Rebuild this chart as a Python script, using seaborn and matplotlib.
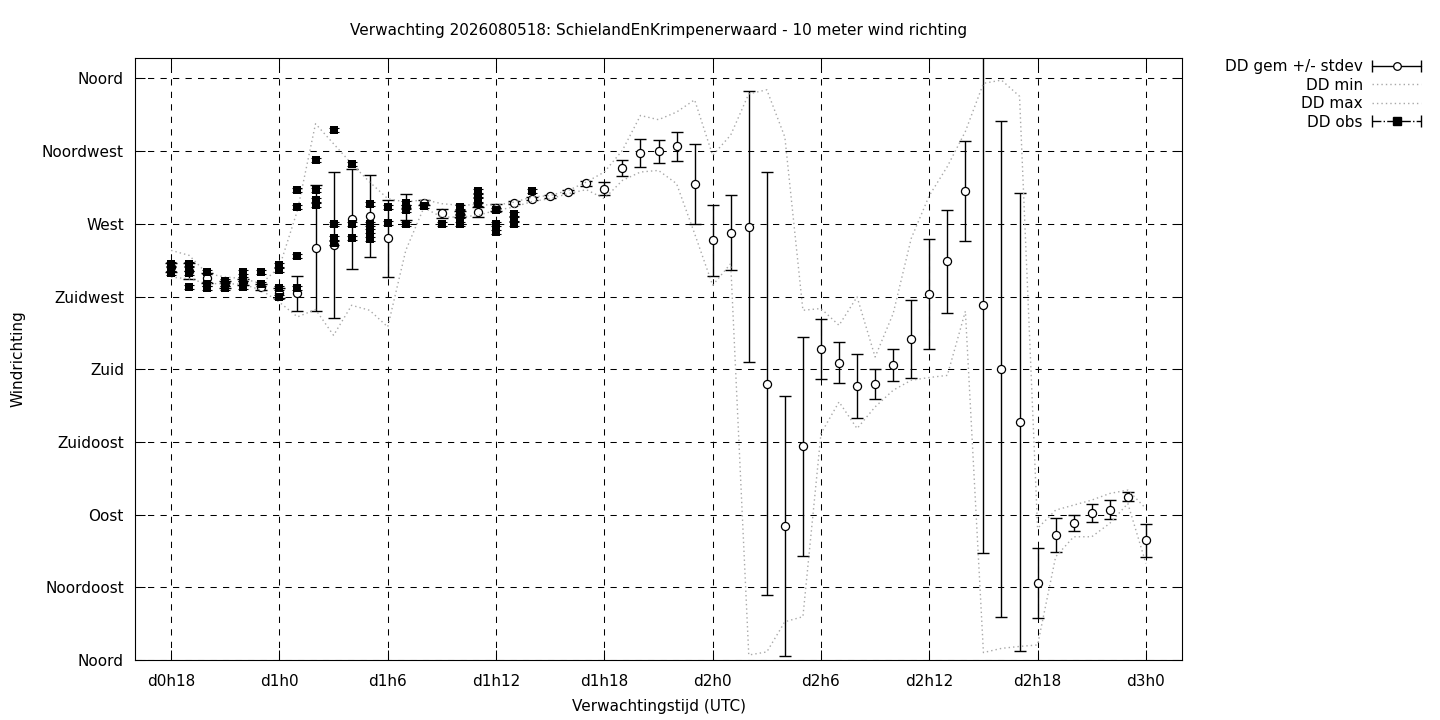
import numpy as np
import pandas as pd
import matplotlib
matplotlib.use("Agg")
import matplotlib.pyplot as plt
import seaborn as sns
from matplotlib.lines import Line2D
from matplotlib.legend_handler import HandlerLine2D

# ---------------- data ----------------
hours = [18, 19, 20, 21, 22, 23, 24, 25, 26, 27, 28, 29, 30, 31, 32, 33, 34, 35,
         36, 37, 38, 39, 40, 41, 42, 43, 44, 45, 46, 47, 48, 49, 50, 51, 52, 53,
         54, 55, 56, 57, 58, 59, 60, 61, 62, 63, 64, 65, 66, 67, 68, 69, 70, 71, 72]

dd_mean = [243, 241, 236.7, 232.5, 234, 231, 227.2, 227, 255, 257, 273, 275, 261,
           280.5, 283, 276.5, 276, 277.4, 280, 283, 285.6, 287, 290, 295, 291.8,
           304.8, 314, 314.9, 318, 294.5, 259.8, 264.6, 268.3, 171, 83, 132.2,
           192.6, 184, 169.6, 170.8, 182.7, 198.7, 226.7, 246.8, 290.6, 219.8,
           180.2, 147.3, 47.6, 77.3, 84.8, 91, 93, 101, 74]

dd_std = [3, 5, 3, 2, 2, 2, 3, 11, 39, 45, 31, 25.5, 24, 8.2, 1.5, 3, 2, 3, 2, 1,
          1, 1, 1, 1.5, 4, 5, 8.7, 7, 9, 24.7, 22, 23, 84, 131, 80.6, 68, 18.7,
          12.7, 20, 9.5, 9.8, 24, 34, 32, 31, 153.7, 153.5, 142, 21.5, 10.5, 4.8,
          5.5, 6, 2.7, 10]

dd_min = [237, 236, 233, 233, 232.6, 229, 221.5, 212.4, 217, 201, 219.6, 216.5,
          206.2, 253.6, 280, 274.2, 274.2, 275.3, 278.4, 280.4, 283.9, 285.6,
          288.7, 291.2, 285.6, 296.9, 302.1, 303.1, 294.9, 264, 232, 245.4, 3.1,
          5, 23.7, 26.8, 140.2, 159.8, 143.3, 156.7, 167, 173.2, 174.9, 176.2,
          215.9, 4.6, 7.2, 8.4, 9.3, 63.9, 76.3, 76.3, 84.6, 96.9, 59.8]

dd_max = [253.6, 250.5, 239.2, 237.1, 236.1, 233, 243.3, 278.4, 332, 319.6, 307.2,
          295.9, 285.6, 283.5, 285, 282.5, 281.5, 282, 281.5, 283.5, 286.6, 287.6,
          290.7, 295.9, 302.1, 315.5, 337.1, 334.5, 339.2, 346.8, 312.4, 325,
          350.5, 353, 323.7, 216.5, 217.6, 207.2, 224.8, 187.6, 214.5, 261, 287.5,
          305.5, 327.2, 357, 359, 349, 81.5, 92.8, 95.9, 99, 103.1, 105.2, 93.8]

obs_hours = [18, 18, 18,
             19, 19, 19, 19,
             20, 20, 20,
             21, 21, 21,
             22, 22, 22, 22,
             23, 23,
             24, 24, 24, 24,
             25, 25, 25, 25,
             26, 26, 26, 26,
             27, 27, 27, 27,
             28, 28, 28,
             29, 29, 29, 29,
             30, 30,
             31, 31, 31, 31,
             32,
             33,
             34, 34, 34, 34,
             35, 35, 35, 35,
             36, 36, 36,
             37, 37, 37,
             38]
obs_dd = [245.0, 242.3, 239.8,
          245.0, 242.3, 239.8, 230.7,
          240.2, 233.0, 230.5,
          234.7, 232.6, 230.3,
          240.2, 236.1, 233.4, 230.9,
          240.2, 233.0,
          244.3, 241.7, 230.3, 224.8,
          291.2, 280.4, 250.3, 230.5,
          309.7, 290.7, 284.6, 281.5,
          328.3, 270.1, 261.2, 258.1,
          307.2, 270.1, 261.2,
          282.5, 270.1, 265.4, 260.4,
          280.5, 270.8,
          282.9, 280.5, 278.4, 270.1,
          281.1,
          270.1,
          280.3, 277.4, 274.6, 270.1,
          290.5, 287.6, 284.6, 282.0,
          278.4, 270.1, 265.2,
          276.3, 273.0, 270.1,
          290.4]

x_ticks = [18, 24, 30, 36, 42, 48, 54, 60, 66, 72]
x_ticklabels = ["d0h18", "d1h0", "d1h6", "d1h12", "d1h18", "d2h0", "d2h6",
                "d2h12", "d2h18", "d3h0"]
y_ticks = [0, 45, 90, 135, 180, 225, 270, 315, 360]
y_ticklabels = ["Noord", "Noordoost", "Oost", "Zuidoost", "Zuid", "Zuidwest",
                "West", "Noordwest", "Noord"]

title = "Verwachting 2026080518: SchielandEnKrimpenerwaard - 10 meter wind richting"
labels = ["DD gem +/- stdev", "DD min", "DD max", "DD obs"]

# ---------------- style ----------------
sns.set_style("ticks")
plt.rcParams["font.family"] = ["DejaVu Sans"]
plt.rcParams["axes.edgecolor"] = "black"
plt.rcParams["text.color"] = "black"
plt.rcParams["axes.labelcolor"] = "black"
plt.rcParams["xtick.color"] = "black"
plt.rcParams["ytick.color"] = "black"

W, H = 1440, 720
fig = plt.figure(figsize=(W / 100, H / 100), dpi=100)
ax_left, ax_right, ax_top, ax_bottom = 135, 1182, 57.5, 660
ax = fig.add_axes([ax_left / W, 1 - ax_bottom / H,
                   (ax_right - ax_left) / W, (ax_bottom - ax_top) / H])

fc = pd.DataFrame({"uur": hours, "gem": dd_mean, "std": dd_std,
                   "min": dd_min, "max": dd_max})
ob = pd.DataFrame({"uur": obs_hours, "dd": obs_dd})

grey = "#a8a8a8"
dotted = (0, (1, 2.2))

# forecast mean +/- stdev
ax.errorbar(fc["uur"], fc["gem"], yerr=fc["std"], fmt="none", ecolor="black",
            elinewidth=1.0, capsize=4.3, capthick=1.0, zorder=3)
sns.scatterplot(data=fc, x="uur", y="gem", marker="o", s=34, color="white",
                edgecolor="black", linewidth=0.9, ax=ax, zorder=4, legend=False)

# min / max
sns.lineplot(data=fc, x="uur", y="min", color=grey, linestyle=dotted, lw=1.0,
             estimator=None, ax=ax, zorder=5, legend=False)
sns.lineplot(data=fc, x="uur", y="max", color=grey, linestyle=dotted, lw=1.0,
             estimator=None, ax=ax, zorder=5, legend=False)

# observations
ax.errorbar(ob["uur"], ob["dd"], yerr=1.2, fmt="none", ecolor="black",
            elinewidth=0.8, capsize=3.6, capthick=0.8, zorder=6)
sns.scatterplot(data=ob, x="uur", y="dd", marker="s", s=36, color="black",
                edgecolor="black", linewidth=0, ax=ax, zorder=7, legend=False)

# axes
ax.set_xlim(16, 74)
ax.set_ylim(0, 373)
ax.set_xticks(x_ticks)
ax.set_xticklabels(x_ticklabels)
ax.set_yticks(y_ticks)
ax.set_yticklabels(y_ticklabels)
ax.grid(True, color="black", linestyle=(0, (6, 6)), linewidth=0.75)
ax.tick_params(direction="in", length=7, width=0.75, top=True, right=True,
               labelsize=11, colors="black")
ax.tick_params(axis="x", pad=10)
ax.tick_params(axis="y", pad=8)
for sp in ax.spines.values():
    sp.set_visible(True)
    sp.set_color("black")
    sp.set_linewidth(0.8)

ax.set_xlabel("Verwachtingstijd (UTC)", fontsize=11, va="center")
ax.xaxis.set_label_coords(0.5, (ax_bottom - 707) / (ax_bottom - ax_top))
ax.set_ylabel("Windrichting", fontsize=11, va="center", ha="center")
ax.yaxis.set_label_coords((18 - ax_left) / (ax_right - ax_left), 0.5)

fig.text(658.5 / W, 1 - 30 / H, title, ha="center", va="center", fontsize=11)

# legend
cap_gem = Line2D([], [], color="black", lw=1.0, marker="|", ms=8, mew=1.0)
dot_gem = Line2D([], [], ls="none", marker="o", ms=5.5, mfc="white",
                 mec="black", mew=0.9)
h_min = Line2D([], [], color=grey, lw=1.0, ls=dotted)
h_max = Line2D([], [], color=grey, lw=1.0, ls=dotted)
cap_obs = Line2D([], [], color="black", lw=1.0, ls="-.", marker="|", ms=8,
                 mew=1.0)
sq_obs = Line2D([], [], ls="none", marker="s", ms=6, color="black")
hmap = {cap_gem: HandlerLine2D(numpoints=2, marker_pad=0),
        cap_obs: HandlerLine2D(numpoints=2, marker_pad=0),
        dot_gem: HandlerLine2D(numpoints=1),
        sq_obs: HandlerLine2D(numpoints=1)}
fig.legend(handles=[(cap_gem, dot_gem), h_min, h_max, (cap_obs, sq_obs)],
           labels=labels, handler_map=hmap, loc="upper right",
           bbox_to_anchor=(1421 / W, 1 - 59 / H), bbox_transform=fig.transFigure,
           frameon=False, markerfirst=False, fontsize=11, handlelength=3.2,
           handletextpad=0.6, labelspacing=0.23, borderpad=0, borderaxespad=0)

fig.savefig("out.png", dpi=100)
